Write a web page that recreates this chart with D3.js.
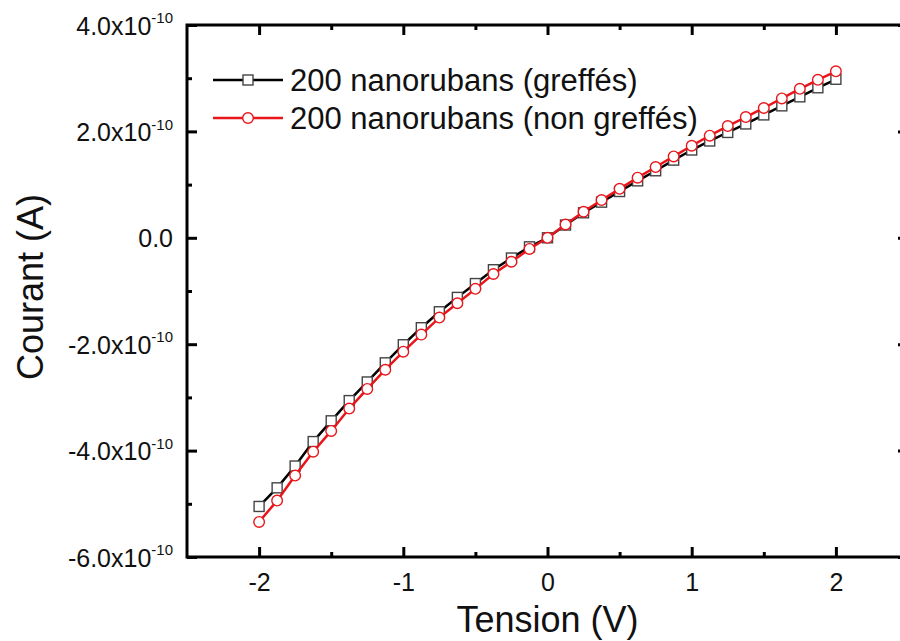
<!DOCTYPE html>
<html>
<head>
<meta charset="utf-8">
<script src="https://cdn.jsdelivr.net/npm/d3@7/dist/d3.min.js"></script>
<style>
  html, body { margin: 0; padding: 0; background: #fff; }
  svg { display: block; font-family: Arial, "Liberation Sans", sans-serif; }
</style>
</head>
<body>
<svg id="chart" width="900" height="641"></svg>
<script>
// ---- Data ----
const voltage = [-2, -1.875, -1.75, -1.625, -1.5, -1.375, -1.25, -1.125, -1, -0.875, -0.75, -0.625, -0.5, -0.375, -0.25, -0.125, 0,
                 0.125, 0.25, 0.375, 0.5, 0.625, 0.75, 0.875, 1, 1.125, 1.25, 1.375, 1.5, 1.625, 1.75, 1.875, 2];
// current in units of 1e-10 A
const greffes = [-5.05, -4.70, -4.29, -3.83, -3.44, -3.06, -2.71, -2.35, -2.01, -1.69, -1.39, -1.12, -0.86, -0.60, -0.38, -0.17, 0,
                 0.24, 0.47, 0.67, 0.87, 1.07, 1.26, 1.46, 1.65, 1.82, 1.98, 2.14, 2.31, 2.48, 2.65, 2.82, 2.98];
const nonGreffes = [-5.34, -4.94, -4.47, -4.02, -3.63, -3.21, -2.84, -2.48, -2.14, -1.82, -1.50, -1.23, -0.96, -0.68, -0.45, -0.21, 0,
                    0.25, 0.49, 0.71, 0.92, 1.13, 1.33, 1.53, 1.73, 1.92, 2.10, 2.27, 2.44, 2.62, 2.80, 2.97, 3.13];
const seriesNames = ["200 nanorubans (greffés)", "200 nanorubans (non greffés)"];
const xMajorTicks = [-2, -1, 0, 1, 2];
const xMinorTicks = [-1.5, -0.5, 0.5, 1.5];
const xTickLabels = ["-2", "-1", "0", "1", "2"];
const yMajorTicks = [-6, -4, -2, 0, 2, 4];
const yMinorTicks = [-5, -3, -1, 1, 3];
const yTickMantissa = ["-6.0", "-4.0", "-2.0", "0.0", "2.0", "4.0"];
const xLabel = "Tension (V)";
const yLabel = "Courant (A)";

// ---- Layout ----
const svg = d3.select("#chart");
const pL = 187, pR = 908, pT = 25, pB = 557;
const x = d3.scaleLinear().domain([-2.5, 2.5]).range([pL, pR]);
const y = d3.scaleLinear().domain([-6, 4]).range([pB, pT]);

const axisW = 3;
function styleAxis(g) {
  g.select(".domain").remove();
  g.selectAll("line").attr("stroke", "#000").attr("stroke-width", axisW);
}

// Major/minor ticks, all four sides, inward
svg.append("g").attr("transform", `translate(0,${pB})`)
  .call(d3.axisBottom(x).tickValues(xMajorTicks).tickSize(-10).tickFormat((d, i) => xTickLabels[i]))
  .call(styleAxis)
  .call(g => g.selectAll("text").attr("font-size", 25).attr("fill", "#111")
    .attr("font-family", "Arial, 'Liberation Sans', sans-serif").attr("y", 34).attr("dy", "0"));
svg.append("g").attr("transform", `translate(0,${pB})`)
  .call(d3.axisBottom(x).tickValues(xMinorTicks).tickSize(-5).tickFormat(""))
  .call(styleAxis);
svg.append("g").attr("transform", `translate(0,${pT})`)
  .call(d3.axisTop(x).tickValues(xMajorTicks).tickSize(-10).tickFormat(""))
  .call(styleAxis);
svg.append("g").attr("transform", `translate(0,${pT})`)
  .call(d3.axisTop(x).tickValues(xMinorTicks).tickSize(-5).tickFormat(""))
  .call(styleAxis);

const yAxisG = svg.append("g").attr("transform", `translate(${pL},0)`)
  .call(d3.axisLeft(y).tickValues(yMajorTicks).tickSize(-10).tickFormat(""))
  .call(styleAxis);
svg.append("g").attr("transform", `translate(${pL},0)`)
  .call(d3.axisLeft(y).tickValues(yMinorTicks).tickSize(-5).tickFormat(""))
  .call(styleAxis);
svg.append("g").attr("transform", `translate(${pR},0)`)
  .call(d3.axisRight(y).tickValues(yMajorTicks).tickSize(-10).tickFormat(""))
  .call(styleAxis);
svg.append("g").attr("transform", `translate(${pR},0)`)
  .call(d3.axisRight(y).tickValues(yMinorTicks).tickSize(-5).tickFormat(""))
  .call(styleAxis);

// Y tick labels with superscript exponent
yAxisG.selectAll(".tick").each(function(d, i) {
  const t = d3.select(this).append("text")
    .attr("x", -14).attr("dy", "0.36em")
    .attr("text-anchor", "end")
    .attr("font-size", 25).attr("fill", "#111");
  if (d === 0) {
    t.text(yTickMantissa[i]);
  } else {
    t.append("tspan").text(yTickMantissa[i] + "x10");
    t.append("tspan").attr("font-size", 15).attr("dy", "-0.75em").text("-10");
  }
});

// Frame
svg.append("rect").attr("x", pL).attr("y", pT).attr("width", pR - pL).attr("height", pB - pT)
  .attr("fill", "none").attr("stroke", "#000").attr("stroke-width", axisW);

// ---- Series ----
const line = d3.line().x(d => x(d[0])).y(d => y(d[1]));
const blackPts = voltage.map((v, i) => [v, greffes[i]]);
const redPts = voltage.map((v, i) => [v, nonGreffes[i]]);
const red = "#e8161b";

svg.append("path").datum(blackPts).attr("d", line).attr("fill", "none").attr("stroke", "#000").attr("stroke-width", 2.5);
svg.append("g").selectAll("rect").data(blackPts).join("rect")
  .attr("x", d => x(d[0]) - 5).attr("y", d => y(d[1]) - 5).attr("width", 10).attr("height", 10)
  .attr("fill", "#fff").attr("stroke", "#444").attr("stroke-width", 1.4);

svg.append("path").datum(redPts).attr("d", line).attr("fill", "none").attr("stroke", red).attr("stroke-width", 2.5);
svg.append("g").selectAll("circle").data(redPts).join("circle")
  .attr("cx", d => x(d[0])).attr("cy", d => y(d[1])).attr("r", 5.3)
  .attr("fill", "#fff").attr("stroke", red).attr("stroke-width", 1.4);

// ---- Legend ----
const legend = svg.append("g");
const legY = [80, 118];
legend.append("line").attr("x1", 213).attr("x2", 283).attr("y1", legY[0]).attr("y2", legY[0]).attr("stroke", "#000").attr("stroke-width", 2.5);
legend.append("rect").attr("x", 243).attr("y", legY[0] - 5).attr("width", 10).attr("height", 10).attr("fill", "#fff").attr("stroke", "#444").attr("stroke-width", 1.4);
legend.append("line").attr("x1", 213).attr("x2", 283).attr("y1", legY[1]).attr("y2", legY[1]).attr("stroke", red).attr("stroke-width", 2.5);
legend.append("circle").attr("cx", 248).attr("cy", legY[1]).attr("r", 5.3).attr("fill", "#fff").attr("stroke", red).attr("stroke-width", 1.4);
seriesNames.forEach((n, i) => {
  legend.append("text").attr("x", 290).attr("y", legY[i]).attr("dy", "0.36em")
    .attr("font-size", 31).attr("fill", "#111").text(n);
});

// ---- Axis titles ----
svg.append("text").attr("x", (pL + pR) / 2).attr("y", 632)
  .attr("text-anchor", "middle").attr("font-size", 36).attr("fill", "#111").text(xLabel);
svg.append("text").attr("transform", `translate(43,287) rotate(-90)`)
  .attr("text-anchor", "middle").attr("font-size", 36).attr("fill", "#111").text(yLabel);
</script>
</body>
</html>
